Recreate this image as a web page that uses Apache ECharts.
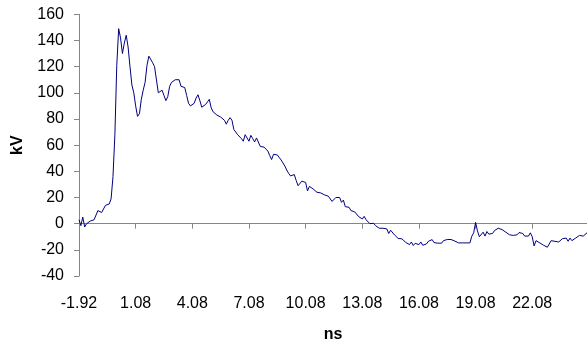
<!DOCTYPE html>
<html>
<head>
<meta charset="utf-8">
<script src="https://cdn.jsdelivr.net/npm/echarts@6/dist/echarts.min.js"></script>
<style>
html,body{margin:0;padding:0;background:#fff;}
#c{width:587px;height:348px;}
</style>
</head>
<body>
<div id="c"></div>
<script>
// Sampling: start time and step (ns)
const tStart = -1.92;
const tStep = 0.1;
// Voltage samples (kV)
const kv = [
3, -1.5, 5, -2.5, 0, 1, 2, 3, 3, 3.6,
10, 8.7, 8.5, 8.5, 14, 15, 15, 19, 36, 68,
121, 149, 142, 130, 138, 144, 135, 120, 106, 100,
90, 82, 84, 95, 102, 108, 121, 128, 127, 123,
120, 119, 100, 101, 102, 98, 94, 97, 105, 108,
108.5, 110, 111, 110, 105, 106, 104, 98, 92, 90,
90, 92, 96, 98.5, 94, 89, 88, 91, 93, 95,
88.5, 85.5, 84, 83, 81.7, 81.5, 81.5, 79, 76, 79,
81, 79, 72, 71.5, 68, 66.5, 65, 63, 68, 68,
63, 67.5, 65, 62.5, 65.5, 64, 59, 58, 58.5, 57,
55.5, 52, 49, 53, 54, 52.5, 51, 48.7, 47.5, 44,
41, 38.5, 36.5, 35.7, 37.5, 33, 29, 29.5, 32.5, 31,
31.5, 25, 28.5, 28, 26.5, 25.5, 24, 24, 23.5, 22,
22, 23.5, 21, 19.5, 17, 17.5, 20, 19.5, 20, 16.3,
18, 13, 11.5, 12.5, 10, 8.5, 9, 7.5, 5.5, 4,
3.6, 5.6, 3, 1.5, 0, -0.2, 0.3, -1.5, -2.8, -3.5,
-4.8, -3.5, -5, -4, -7.5, -5, -6, -8.5, -9.8, -11.3,
-11.6, -11.6, -11.6, -14.3, -13.3, -16, -14, -16.7, -15, -14,
-16, -14, -16.5, -17, -15.5, -13.5, -14, -12.2, -14.5, -14.9,
-14.9, -14.9, -14.9, -13, -12.1, -12.1, -12.1, -12.1, -12.5, -13.3,
-13.5, -14.7, -14.7, -14.7, -14.7, -14.7, -14.7, -14.7, -9.6, -7,
1, -5.5, -10, -9, -6.5, -9.5, -6, -8, -6.5, -7.5,
-5.3, -6.5, -3.5, -4.5, -4.5, -5, -6.5, -6.5, -8.5, -9,
-9, -9.5, -8.5, -6.8, -6.5, -7.5, -9.5, -10.5, -9.5, -7,
-10, -17, -13, -14.5, -14.7, -15, -16.5, -18, -18, -18,
-13, -12.1, -13.5, -12, -14, -13, -11.5, -13, -11, -13.5,
-11, -13, -11.5, -11, -12, -9, -10.5, -9.5, -9, -7
];
// Time categories (ns) for each sample
const times = kv.map((_, i) => (tStart + tStep * i).toFixed(2));
// Axis settings
const yTicks = { min: -40, max: 160, step: 20 };
const labelEvery = 30; // one label every 3 ns

const axisGray = '#868686';
const font = '"Liberation Sans", Arial, sans-serif';

const chart = echarts.init(document.getElementById('c'), null, { renderer: 'canvas' });
chart.setOption({
  animation: false,
  backgroundColor: '#ffffff',
  grid: { left: 79, right: 0, top: 14.3, bottom: 70.7, containLabel: false },
  xAxis: [
    {
      type: 'category',
      data: times,
      boundaryGap: false,
      position: 'bottom',
      axisLine: { onZero: true, lineStyle: { color: axisGray, width: 1 } },
      axisTick: { show: true, interval: labelEvery - 1, length: 5, lineStyle: { color: axisGray } },
      axisLabel: { show: false },
      splitLine: { show: false }
    },
    {
      type: 'category',
      data: times,
      boundaryGap: false,
      position: 'bottom',
      axisLine: { show: false, onZero: false },
      axisTick: { show: false },
      axisLabel: {
        show: true, interval: labelEvery - 1, margin: 20,
        fontFamily: font, fontSize: 16, color: '#000'
      },
      splitLine: { show: false },
      name: 'ns',
      nameLocation: 'middle',
      nameGap: 51,
      nameTextStyle: { fontFamily: font, fontSize: 16, fontWeight: 'bold', color: '#000' }
    }
  ],
  yAxis: {
    type: 'value',
    min: yTicks.min,
    max: yTicks.max,
    interval: yTicks.step,
    axisLine: { show: true, lineStyle: { color: axisGray, width: 1 } },
    axisTick: { show: true, length: 5, lineStyle: { color: axisGray } },
    axisLabel: { margin: 15, fontFamily: font, fontSize: 16, color: '#000' },
    splitLine: { show: false },
    name: 'kV',
    nameLocation: 'middle',
    nameGap: 53,
    nameTextStyle: { fontFamily: font, fontSize: 16, fontWeight: 'bold', color: '#000' }
  },
  series: [{
    type: 'line',
    xAxisIndex: 0,
    data: kv,
    showSymbol: false,
    symbol: 'none',
    lineStyle: { color: '#000080', width: 1 },
    z: 3
  }]
});
</script>
</body>
</html>
